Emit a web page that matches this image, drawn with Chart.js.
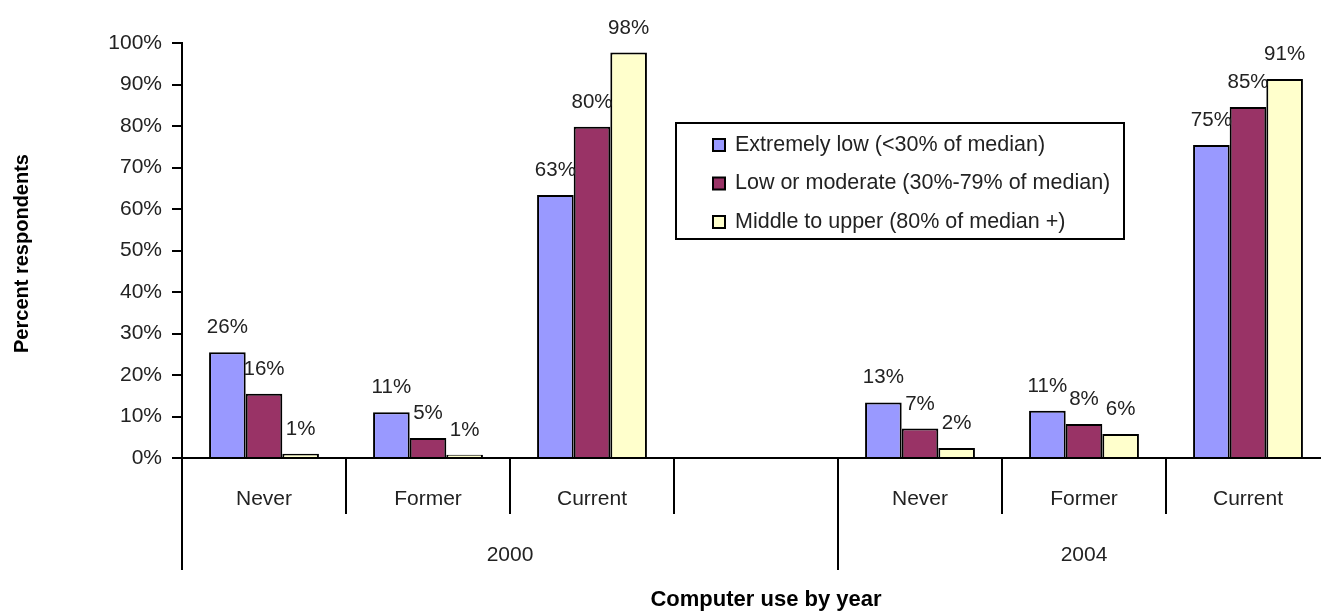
<!DOCTYPE html>
<html>
<head>
<meta charset="utf-8">
<script src="https://cdn.jsdelivr.net/npm/chart.js@4"></script>
<style>
  html, body { margin: 0; padding: 0; background: #fff; overflow: hidden; }
  #wrap { width: 1321px; height: 614px; overflow: hidden; }
</style>
</head>
<body>
<div id="wrap"><canvas id="myChart" width="1330" height="614"></canvas></div>
<script>
// categorias e grupos
const categorias = ['Never', 'Former', 'Current', '', 'Never', 'Former', 'Current'];
const grupos = [
    { label: '2000', from: 0, to: 3 },
    { label: '2004', from: 4, to: 6 },
];

// valores (% de respondentes)
const extremelyLow = [25.5, 11, 63.4, null, 13.4, 11.4, 75.4];
const lowModerate  = [15.5, 4.8, 79.8, null, 7.1, 8.2, 84.6];
const middleUpper  = [1, 0.8, 97.7, null, 2.4, 5.8, 91.3];

const yTicks = [0, 10, 20, 30, 40, 50, 60, 70, 80, 90, 100];

const FONT = "'Liberation Sans', Arial, sans-serif";

const ctx = document.getElementById('myChart').getContext('2d');

const data = {
    labels: categorias,
    datasets: [{
        label: 'Extremely low (<30% of median)',
        backgroundColor: '#9999ff',
        data: extremelyLow,
    },
    {
        label: 'Low or moderate (30%-79% of median)',
        backgroundColor: '#993366',
        data: lowModerate,
    },
    {
        label: 'Middle to upper (80% of median +)',
        backgroundColor: '#ffffcc',
        data: middleUpper,
    }],
};

// desenha rotulos, eixo x em dois niveis, legenda e titulos
const extras = {
    id: 'extras',
    afterDatasetsDraw(chart) {
        const c = chart.ctx;
        const area = chart.chartArea;
        const x = chart.scales.x;
        const n = categorias.length;
        const w = (area.right - area.left) / n;

        c.save();

        // rotulos de dados
        c.font = '20.5px ' + FONT;
        c.fillStyle = '#222';
        c.textAlign = 'center';
        c.textBaseline = 'alphabetic';
        chart.data.datasets.forEach((ds, i) => {
            chart.getDatasetMeta(i).data.forEach((bar, j) => {
                const v = ds.data[j];
                if (v == null) return;
                c.fillText(Math.round(v) + '%', bar.x, bar.y - 19);
            });
        });

        // eixo x
        c.strokeStyle = '#000';
        c.lineWidth = 2;
        c.beginPath();
        c.moveTo(area.left - 10, area.bottom);
        c.lineTo(area.right, area.bottom);
        for (let k = 0; k < n; k++) {
            const bx = area.left + k * w;
            const longo = grupos.some(g => g.from === k);
            c.moveTo(bx, area.bottom);
            c.lineTo(bx, area.bottom + (longo ? 112 : 56));
        }
        c.stroke();

        c.font = '21px ' + FONT;
        c.fillStyle = '#222';
        c.textBaseline = 'middle';
        categorias.forEach((lab, j) => {
            c.fillText(lab, x.getPixelForValue(j), area.bottom + 41);
        });
        grupos.forEach(g => {
            const gx = (area.left + g.from * w + area.left + (g.to + 1) * w) / 2;
            c.fillText(g.label, gx, area.bottom + 97);
        });

        // titulos
        c.font = 'bold 22px ' + FONT;
        c.fillStyle = '#000';
        c.fillText('Computer use by year', (area.left + area.right) / 2 + 10, 600);
        c.save();
        c.translate(22, (area.top + area.bottom) / 2 + 3);
        c.rotate(-Math.PI / 2);
        c.font = 'bold 20px ' + FONT;
        c.fillText('Percent respondents', 0, 0);
        c.restore();

        // legenda
        const lx = 676, ly = 123, lw = 448, lh = 116;
        c.fillStyle = '#fff';
        c.fillRect(lx, ly, lw, lh);
        c.lineWidth = 2;
        c.strokeStyle = '#000';
        c.strokeRect(lx, ly, lw, lh);
        c.font = '21.5px ' + FONT;
        c.textAlign = 'left';
        chart.data.datasets.forEach((ds, i) => {
            const cy = ly + 22 + i * 38.5;
            c.fillStyle = ds.backgroundColor;
            c.fillRect(lx + 37, cy - 6, 12, 12);
            c.lineWidth = 2;
            c.strokeRect(lx + 37, cy - 6, 12, 12);
            c.fillStyle = '#222';
            c.fillText(ds.label, lx + 59, cy);
        });

        c.restore();
    }
};

const config = {
    type: 'bar',
    data: data,
    options: {
        responsive: false,
        animation: false,
        devicePixelRatio: 1,
        layout: {
            padding: { left: 0, right: 0, top: 43, bottom: 156 }
        },
        datasets: {
            bar: {
                borderColor: '#000',
                borderWidth: 2,
                categoryPercentage: 0.67,
                barPercentage: 1,
            }
        },
        plugins: {
            legend: { display: false },
            tooltip: { enabled: false },
        },
        scales: {
            x: {
                display: false,
            },
            y: {
                min: 0,
                max: 100,
                afterFit: function(scale) { scale.width = 182; },
                afterBuildTicks: function(scale) {
                    scale.ticks = yTicks.map(v => ({ value: v }));
                },
                border: { color: '#000', width: 2 },
                grid: {
                    drawOnChartArea: false,
                    color: '#000',
                    lineWidth: 2,
                    tickLength: 10,
                },
                ticks: {
                    padding: 10,
                    color: '#222',
                    font: { family: FONT, size: 21 },
                    callback: function(value) {
                        return value + '%';
                    }
                }
            }
        }
    },
    plugins: [extras],
};

const myChart = new Chart(ctx, config);
</script>
</body>
</html>
